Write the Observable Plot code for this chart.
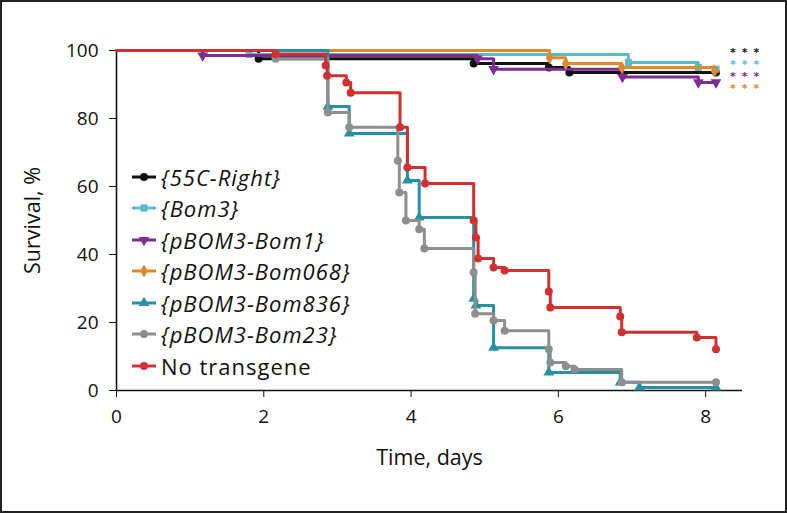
<!DOCTYPE html>
<html>
<head>
<meta charset="utf-8">
<script src="https://cdn.jsdelivr.net/npm/d3@7"></script>
<script src="https://cdn.jsdelivr.net/npm/@observablehq/plot@0.6"></script>
<style>
  html, body { margin: 0; padding: 0; background: #fff; }
  #wrap { position: relative; width: 787px; height: 513px; overflow: hidden; font-family: "Open Sans", sans-serif; }
  #frame { position: absolute; left: 0; top: 0; width: 787px; height: 513px; box-sizing: border-box; border: 2px solid #222; pointer-events: none; }
  #legend { position: absolute; left: 131px; top: 161px; }
  .row { display: flex; align-items: center; height: 31.5px; font-size: 22px; letter-spacing: 1px; color: #111; white-space: nowrap; }
  .row svg { margin-right: 4px; }
  .it { font-style: italic; }
  #stars { position: absolute; left: 730px; top: 47px; font-size: 11px; line-height: 12px; letter-spacing: 6px; font-weight: bold; font-family: "DejaVu Sans", sans-serif; }
  #stars div { height: 12px; }
</style>
</head>
<body>
<div id="wrap"><div id="frame"></div></div>
<script>
// ---- data ----
const seriesNames = ["{55C-Right}", "{Bom3}", "{pBOM3-Bom1}", "{pBOM3-Bom068}", "{pBOM3-Bom836}", "{pBOM3-Bom23}", "No transgene"];
const seriesColors = ["#111111", "#5fb8c6", "#7b2d90", "#dc8a2c", "#2691a4", "#8e8e8e", "#d03030"];
const xTicks = [0, 2, 4, 6, 8];
const yTicks = [0, 20, 40, 60, 80, 100];
const starLabel = "***";

const t55C = [0, 1.93, 4.85, 5.87, 6.15, 8.14];
const s55C = [100, 97.6, 96.2, 95, 93.5, 93.5];
const tBom3 = [0, 1.8, 6.95, 7.9, 8.14];
const sBom3 = [100, 98.8, 96.5, 95, 94.5];
const tBom1 = [0, 1.17, 4.9, 5.12, 6.87, 7.9, 8.14];
const sBom1 = [100, 98.5, 97.6, 94.5, 92.2, 90.6, 90.6];
const tBom068 = [0, 5.88, 6.1, 6.86, 8.12];
const sBom068 = [100, 97.9, 96.2, 95, 94];
const tBom836 = [0, 2.87, 3.16, 3.95, 4.11, 4.85, 4.88, 5.12, 5.87, 6.84, 7.1, 8.14];
const sBom836 = [100, 83.5, 75.6, 61.8, 50.9, 27, 25, 12.6, 5.3, 2.4, 0.9, 0.9];
const tBom23 = [0, 2.16, 2.87, 3.16, 3.82, 3.84, 3.93, 4.11, 4.18, 4.85, 4.87, 5.12, 5.27, 5.87, 5.89, 6.1, 6.22, 6.86, 8.14];
const sBom23 = [100, 97.6, 81.8, 77.4, 67.6, 58.2, 50, 47.4, 41.8, 34.7, 22.6, 20.6, 17.6, 12.1, 8.2, 7.1, 6.2, 2.4, 2.4];
const tNone = [0, 2.16, 2.84, 2.86, 3.12, 3.18, 3.85, 3.95, 4.19, 4.85, 4.88, 4.91, 5.12, 5.27, 5.87, 5.89, 6.84, 6.86, 7.88, 8.14];
const sNone = [100, 99, 95.6, 92.6, 90.6, 87.6, 77.4, 65.6, 60.9, 50, 45, 38.8, 36.2, 35.3, 29.1, 24.4, 21.8, 17.1, 15.6, 12.1];

const seriesT = [t55C, tBom3, tBom1, tBom068, tBom836, tBom23, tNone];
const seriesS = [s55C, sBom3, sBom1, sBom068, sBom836, sBom23, sNone];
const symbols = ["circle", "square", "triangle", "diamond", "triangle", "circle", "circle"];
const rotates = [0, 0, 180, 0, 0, 0, 0];
const italic = [true, true, true, true, true, true, false];

// ---- build ----
const marks = [];
seriesNames.forEach((name, i) => {
  const rows = seriesT[i].map((t, j) => ({t, s: seriesS[i][j], name}));
  marks.push(Plot.line(rows, {x: "t", y: "s", curve: "step-after", stroke: seriesColors[i], strokeWidth: 3}));
  marks.push(Plot.dot(rows.slice(1), {x: "t", y: "s", symbol: symbols[i], fill: seriesColors[i], r: 4, rotate: rotates[i]}));
});

const chart = Plot.plot({
  width: 787, height: 513,
  marginLeft: 116, marginRight: 45, marginTop: 50, marginBottom: 123,
  style: {fontFamily: "Open Sans, sans-serif", fontSize: "18px", color: "#111", background: "transparent"},
  x: {domain: [0, 8.5]},
  y: {domain: [0, 100]},
  marks: [
    Plot.axisX({ticks: xTicks, tickSize: 7, tickPadding: 12, label: "Time, days", labelAnchor: "center", labelArrow: "none", labelOffset: 74, fontSize: 19}),
    Plot.axisY({ticks: yTicks, tickSize: 7, tickPadding: 11, label: "Survival, %", labelAnchor: "center", labelArrow: "none", labelOffset: 92, fontSize: 19}),
    Plot.ruleY([0], {strokeWidth: 1.6}),
    Plot.ruleX([0], {strokeWidth: 1.6}),
    ...marks
  ]
});
// enlarge the axis titles
d3.select(chart).selectAll("g[aria-label='x-axis label'] text, g[aria-label='y-axis label'] text").attr("font-size", 21.5);
const wrap = document.getElementById("wrap");
wrap.insertBefore(chart, wrap.firstChild);

// legend
const leg = document.createElement("div");
leg.id = "legend";
seriesNames.forEach((name, i) => {
  const row = document.createElement("div");
  row.className = "row";
  const sw = d3.create("svg").attr("width", 26).attr("height", 12);
  sw.append("line").attr("x1", 1).attr("x2", 25).attr("y1", 6).attr("y2", 6).attr("stroke", seriesColors[i]).attr("stroke-width", 3);
  const sym = {circle: d3.symbolCircle, square: d3.symbolSquare, triangle: d3.symbolTriangle, diamond: d3.symbolDiamond}[symbols[i]];
  sw.append("path").attr("d", d3.symbol(sym, 50)()).attr("transform", `translate(13,6) rotate(${rotates[i]})`).attr("fill", seriesColors[i]);
  row.appendChild(sw.node());
  const tx = document.createElement("span");
  tx.textContent = name;
  if (italic[i]) tx.className = "it";
  row.appendChild(tx);
  leg.appendChild(row);
});
wrap.appendChild(leg);

// significance stars
const st = document.createElement("div");
st.id = "stars";
seriesColors.slice(0, 4).forEach(c => {
  const d = document.createElement("div");
  d.style.color = c;
  d.textContent = starLabel;
  st.appendChild(d);
});
wrap.appendChild(st);
</script>
</body>
</html>
